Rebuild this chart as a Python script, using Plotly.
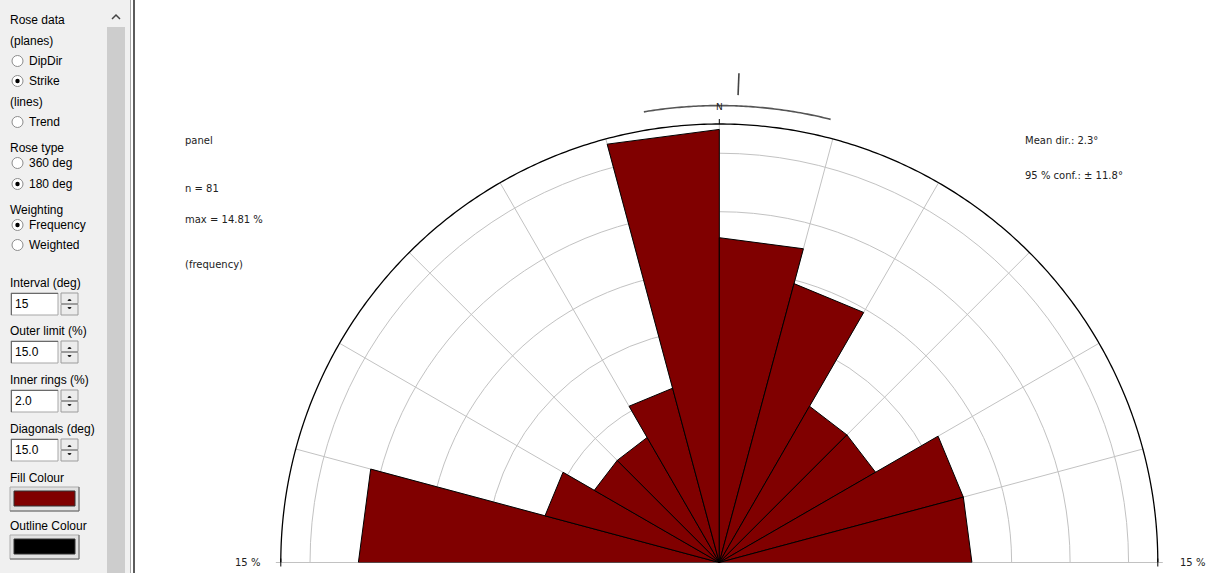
import plotly.graph_objects as go
import numpy as np

W, H = 1219, 573

# ---------------- data ----------------
BIN_START = [270, 285, 300, 315, 330, 345, 0, 15, 30, 45, 60, 75]   # azimuth (deg)
COUNTS = [10, 5, 4, 4, 5, 12, 9, 8, 5, 5, 7, 7]
INTERVAL = 15
OUTER_LIMIT = 15.0
INNER_RINGS = 2.0
DIAGONALS = 15.0
MEAN_DIR = 2.3
CONF95 = 11.8
DATASET = "panel"
WEIGHTING = "frequency"

n = sum(COUNTS)
pct = [c / n * 100.0 for c in COUNTS]
max_pct = max(pct)

# ---------------- geometry ----------------
CX, CY, R = 719.3, 562.5, 438.5          # centre / radius of rose in pixels
R2MAX = 17.0                             # overlay polar range (for mean-dir marker)
R2 = R * R2MAX / OUTER_LIMIT

def pdom(rad):
    return dict(x=[(CX - rad) / W, (CX + rad) / W],
                y=[(H - CY) / H, (H - CY + rad) / H])

FILL = "#800000"
GRID = "#c2c2c2"

fig = go.Figure()

# dummy trace for the full-page overlay axis
fig.add_trace(go.Scatter(x=[0, W], y=[0, H], mode="markers", marker=dict(opacity=0),
                         hoverinfo="skip", showlegend=False, xaxis="x", yaxis="y"))

# wedges
for s, p in zip(BIN_START, pct):
    fig.add_trace(go.Scatterpolar(
        r=[0, p, p, 0], theta=[s, s, s + INTERVAL, s + INTERVAL],
        mode="lines", fill="toself", fillcolor=FILL,
        line=dict(color="black", width=1), subplot="polar",
        hoverinfo="skip", showlegend=False))

# grey baseline outside the wedges (overlay polar)
left_p = pct[BIN_START.index(270)]
right_p = pct[BIN_START.index(90 - INTERVAL)]
fig.add_trace(go.Scatterpolar(r=[OUTER_LIMIT, left_p], theta=[270, 270], mode="lines",
                              line=dict(color=GRID, width=1), subplot="polar2",
                              hoverinfo="skip", showlegend=False))
fig.add_trace(go.Scatterpolar(r=[right_p, OUTER_LIMIT], theta=[90, 90], mode="lines",
                              line=dict(color=GRID, width=1), subplot="polar2",
                              hoverinfo="skip", showlegend=False))
# outer circle
outer_t = np.linspace(-90, 90, 361)
fig.add_trace(go.Scatterpolar(r=[OUTER_LIMIT] * len(outer_t), theta=outer_t, mode="lines",
                              line=dict(color="black", width=1.3), subplot="polar2",
                              hoverinfo="skip", showlegend=False))

# mean direction + confidence arc (overlay polar)
arc_t = np.linspace(MEAN_DIR - CONF95, MEAN_DIR + CONF95, 80)
fig.add_trace(go.Scatterpolar(r=[15.63] * len(arc_t), theta=arc_t, mode="lines",
                              line=dict(color="#555555", width=1.6), subplot="polar2",
                              hoverinfo="skip", showlegend=False))
fig.add_trace(go.Scatterpolar(r=[16.0, 16.75], theta=[MEAN_DIR, MEAN_DIR], mode="lines",
                              line=dict(color="#444444", width=1.6), subplot="polar2",
                              hoverinfo="skip", showlegend=False))
for t in [0, 90, 270]:
    fig.add_trace(go.Scatterpolar(r=[OUTER_LIMIT, OUTER_LIMIT + 0.17], theta=[t, t], mode="lines",
                                  line=dict(color="black", width=1), subplot="polar2",
                                  hoverinfo="skip", showlegend=False))
fig.add_trace(go.Scatterpolar(r=[15.55], theta=[0], mode="text", text=["N"],
                              textfont=dict(family="DejaVu Sans", size=9, color="#222"),
                              subplot="polar2", hoverinfo="skip", showlegend=False))

shapes = []
annots = []

def rect(x0, y0, x1, y1, fill, line=None, lw=1):
    shapes.append(dict(type="rect", xref="x", yref="y", x0=x0, y0=y0, x1=x1, y1=y1,
                       fillcolor=fill, line=dict(color=line or fill, width=lw if line else 0),
                       layer="above"))

def seg(x0, y0, x1, y1, color, lw=1):
    shapes.append(dict(type="line", xref="x", yref="y", x0=x0, y0=y0, x1=x1, y1=y1,
                       line=dict(color=color, width=lw), layer="above"))

def path(d, color, lw=1, fill=None):
    shapes.append(dict(type="path", xref="x", yref="y", path=d,
                       line=dict(color=color, width=lw),
                       fillcolor=fill or "rgba(0,0,0,0)", layer="above"))

def text(x, y, s, size=12, family="Liberation Sans", color="black", xanchor="left"):
    annots.append(dict(x=x - 2 if xanchor == "left" else x + 2, y=y, xref="x", yref="y",
                       text=s, showarrow=False, xanchor=xanchor, yanchor="middle",
                       font=dict(family=family, size=size, color=color)))

# baseline end ticks (small vertical crosses)
seg(CX - R, CY - 4, CX - R, CY + 4, "black", 1)
seg(CX + R, CY - 4, CX + R, CY + 4, "black", 1)

# ---------------- side panel ----------------
rect(0, 0, 107, H, "#f0f0f0")
rect(107, 0, 125, H, "#cdcdcd")
rect(107, 0, 125, 27, "#f0f0f0")
path("M 112 19 L 116 15 L 120 19", "#444444", 1.5)
rect(125, 0, 131, H, "#f0f0f0")
seg(130.5, 0, 130.5, H, "#a8a8a8", 1)
seg(134, 0, 134, H, "#5c5c5c", 2)

def radio(y, label, on):
    shapes.append(dict(type="circle", xref="x", yref="y", x0=12, x1=23, y0=y - 5.5, y1=y + 5.5,
                       fillcolor="white", line=dict(color="#8c8c8c", width=1), layer="above"))
    if on:
        shapes.append(dict(type="circle", xref="x", yref="y", x0=15.3, x1=19.7, y0=y - 2.2, y1=y + 2.2,
                           fillcolor="black", line=dict(color="black", width=0), layer="above"))
    text(29, y, label)

text(10, 20, "Rose data")
text(10, 41, "(planes)")
radio(61, "DipDir", False)
radio(81, "Strike", True)
text(10, 102, "(lines)")
radio(122, "Trend", False)
text(10, 148, "Rose type")
radio(163, "360 deg", False)
radio(184, "180 deg", True)
text(10, 210, "Weighting")
radio(225, "Frequency", True)
radio(245, "Weighted", False)

def spinbox(label, ly, value):
    text(10, ly, label)
    top = ly + 10
    bot = top + 22
    rect(11, top, 58, bot, "white", "#a6a6a6", 1)
    seg(11, top + 0.5, 58, top + 0.5, "#6a6a6a", 1)
    seg(11.5, top, 11.5, bot, "#6a6a6a", 1)
    text(15, (top + bot) / 2, value)
    mid = (top + bot) / 2
    rect(61, top, 78, mid - 0.5, "#ececec", "#9c9c9c", 1)
    rect(61, mid + 0.5, 78, bot, "#ececec", "#9c9c9c", 1)
    cx = 69.5
    path(f"M {cx-1.5} {mid-3.5} L {cx+1.5} {mid-3.5} L {cx} {mid-5} Z", "#222", 1, "#222")
    path(f"M {cx-1.5} {mid+3.5} L {cx+1.5} {mid+3.5} L {cx} {mid+5} Z", "#222", 1, "#222")

spinbox("Interval (deg)", 283, f"{INTERVAL}")
spinbox("Outer limit (%)", 331, f"{OUTER_LIMIT:.1f}")
spinbox("Inner rings (%)", 380, f"{INNER_RINGS:.1f}")
spinbox("Diagonals (deg)", 429, f"{DIAGONALS:.1f}")

def colour_button(label, ly, colour):
    text(10, ly, label)
    top = ly + 9
    rect(10, top, 79, top + 24, "#e1e1e1", "#adadad", 1)
    seg(10, top + 24, 79, top + 24, "#6a6a6a", 1)
    seg(79, top, 79, top + 24, "#6a6a6a", 1)
    rect(14, top + 4, 75, top + 19, colour, "#333333", 1)

colour_button("Fill Colour", 478, FILL)
colour_button("Outline Colour", 526, "#000000")

# ---------------- chart texts ----------------
TF = "DejaVu Sans"
text(185, 140, DATASET, size=10, family=TF, color="#222")
text(185, 188, f"n = {n}", size=10, family=TF, color="#222")
text(185, 219, f"max = {max_pct:.2f} %", size=10, family=TF, color="#222")
text(185, 264, f"({WEIGHTING})", size=10, family=TF, color="#222")
text(1025, 140, f"Mean dir.: {MEAN_DIR}°", size=10, family=TF, color="#222")
text(1025, 175, f"95 % conf.: ± {CONF95}°", size=10, family=TF, color="#222")
text(260, 562, f"{OUTER_LIMIT:.0f} %", size=10, family=TF, color="#222", xanchor="right")
text(1180, 562, f"{OUTER_LIMIT:.0f} %", size=10, family=TF, color="#222")

fig.update_layout(
    template="none",
    width=W, height=H,
    margin=dict(l=0, r=0, t=0, b=0, pad=0),
    paper_bgcolor="white",
    plot_bgcolor="rgba(0,0,0,0)",
    showlegend=False,
    xaxis=dict(range=[0, W], domain=[0, 1], visible=False, fixedrange=True),
    yaxis=dict(range=[H, 0], domain=[0, 1], visible=False, fixedrange=True),
    polar=dict(
        domain=pdom(R),
        sector=[0, 180],
        bgcolor="white",
        radialaxis=dict(range=[0, OUTER_LIMIT], tick0=0, dtick=INNER_RINGS, showticklabels=False,
                        ticks="", showline=False, gridcolor=GRID, gridwidth=1),
        angularaxis=dict(rotation=90, direction="clockwise", tick0=0, dtick=DIAGONALS,
                         showticklabels=False, ticks="", showline=False,
                         gridcolor=GRID, gridwidth=1),
    ),
    polar2=dict(
        domain=pdom(R2),
        sector=[0, 180],
        bgcolor="rgba(0,0,0,0)",
        radialaxis=dict(range=[0, R2MAX], visible=False, showgrid=False),
        angularaxis=dict(rotation=90, direction="clockwise", visible=False, showgrid=False,
                         showline=False),
    ),
    shapes=shapes,
    annotations=annots,
)

fig.write_html("out.html")
